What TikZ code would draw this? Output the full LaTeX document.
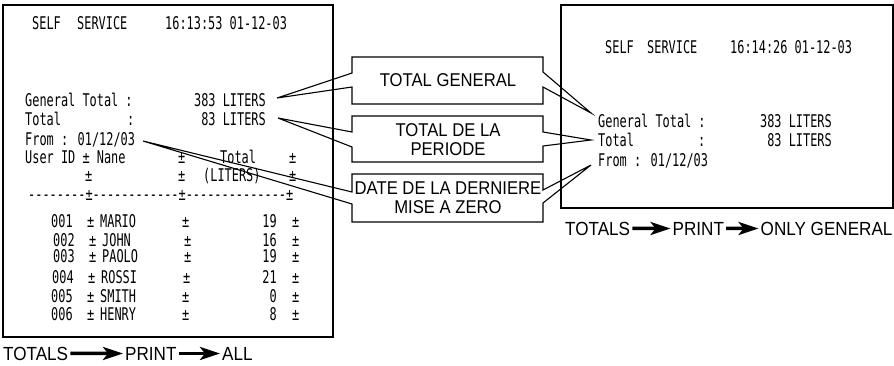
\documentclass[tikz,border=0pt]{standalone}
\usepackage{fontspec}
\usetikzlibrary{arrows.meta}
\newfontfamily\rcptfont[FakeStretch=0.68,Ligatures=TeXOff]{DejaVu Sans Mono}
\newfontfamily\helvfont[FakeStretch=0.9]{Liberation Sans}
\tikzset{
  rc/.style={font=\rcptfont\fontsize{17.5}{19}\selectfont,inner sep=0pt,anchor=base west},
  rcr/.style={rc,anchor=base east},
  frame/.style={draw,line width=1.2pt},
  callout/.style={draw,line width=1.1pt,line join=miter},
  ctxt/.style={font=\helvfont\fontsize{18.5}{19}\selectfont,align=center,inner sep=0pt},
  btxt/.style={font=\helvfont\fontsize{19}{19}\selectfont,inner sep=2pt,anchor=base west},
  bigarrow/.style={line width=3.5pt,-{Stealth[length=20pt,width=13pt,inset=5pt]}}
}
\begin{document}
\begin{tikzpicture}[x=1pt,y=-1pt]
\useasboundingbox (0,0) rectangle (894,365);
\draw[frame] (3,5) rectangle (333,337);
\draw[frame] (561,5) rectangle (893,208);
\node[rc] (self1) at (32,29) {SELF};
\node[rc] (serv1) at (77,29) {SERVICE};
\node[rc] (time1) at (165,29) {16:13:53 01-12-03};
\node[rc] (gtot1) at (25,106) {General Total :};
\node[rcr] (gval1) at (266,106) {383 LITERS};
\node[rc] (ptot1) at (25,125) {Total};
\node[rc] (pcol1) at (127,125) {:};
\node[rcr] (pval1) at (266,125) {83 LITERS};
\node[rc] (from1) at (25,145) {From : 01/12/03};
\node[rc] (user1) at (25,163) {User ID ± Nane};
\node[rc] (usep1) at (178,163) {±};
\node[rc] (utot1) at (220,163) {Total};
\node[rc] (usep2) at (289,163) {±};
\node[rc] (lsep1) at (85,181) {±};
\node[rc] (lsep2) at (178,181) {±};
\node[rc] (lit1) at (203,181) {(LITERS)};
\node[rc] (lsep3) at (289,181) {±};
\node[rc] (dash1) at (28,200) {--------±------------±--------------±};
\foreach \y/\id/\dx/\nm/\v in {227/001/0/MARIO/19,246/002/2/JOHN/16,262/003/2/PAOLO/19,283/004/1/ROSSI/21,302/005/0/SMITH/0,320/006/0/HENRY/8}{
  \node[rc] (id\id) at (51+\dx,\y) {\id};
  \node[rc] (sa\id) at (87+\dx,\y) {±};
  \node[rc] (nm\id) at (100+\dx,\y) {\nm};
  \node[rc] (sb\id) at (182+\dx,\y) {±};
  \node[rcr] (v\id) at (277,\y) {\v};
  \node[rc] (sc\id) at (292,\y) {±};
}
\node[rc] (self2) at (605,53) {SELF};
\node[rc] (serv2) at (647,53) {SERVICE};
\node[rc] (time2) at (730,53) {16:14:26 01-12-03};
\node[rc] (gtot2) at (598,127) {General Total :};
\node[rcr] (gval2) at (832,127) {383 LITERS};
\node[rc] (ptot2) at (598,146) {Total};
\node[rc] (pcol2) at (698,146) {:};
\node[rcr] (pval2) at (832,146) {83 LITERS};
\node[rc] (from2) at (598,166) {From : 01/12/03};
\coordinate (ltipa) at (277,98);
\coordinate (ltipb) at (278,118);
\coordinate (ltipc) at (143,141);
\coordinate (rtipa) at (591,113);
\coordinate (rtipb) at (591,140);
\coordinate (rtipc) at (591,165);
\draw[callout] (352,57) -- (543,57) -- (543,72) -- (rtipa) -- (543,87) -- (543,104) -- (352,104) -- (352,87) -- (ltipa) -- (352,73) -- cycle;
\draw[callout] (352,116) -- (543,116) -- (543,132) -- (rtipb) -- (543,146) -- (543,162) -- (352,162) -- (352,147) -- (ltipb) -- (352,132) -- cycle;
\draw[callout] (352,174) -- (543,174) -- (543,190) -- (rtipc) -- (543,203) -- (543,222) -- (352,222) -- (352,204) -- (ltipc) -- (352,192) -- cycle;
\node[ctxt] (cgen) at (448,80) {TOTAL GENERAL};
\node[ctxt] (cper) at (448,139.5) {TOTAL DE LA\\PERIODE};
\node[ctxt] (cdat) at (448,197.5) {DATE DE LA DERNIERE\\MISE A ZERO};
\node[btxt] (tot1) at (1,360) {TOTALS};
\node[btxt] (prn1) at (123,360) {PRINT};
\node[btxt] (all1) at (220,360) {ALL};
\draw[bigarrow] (tot1) -- (prn1);
\draw[bigarrow] (prn1) -- (all1);
\node[btxt] (tot2) at (563,235) {TOTALS};
\node[btxt] (prn2) at (670.5,235) {PRINT};
\node[btxt] (onl2) at (758.5,235) {ONLY GENERAL};
\draw[bigarrow] (tot2) -- (prn2);
\draw[bigarrow] (prn2) -- (onl2);
\end{tikzpicture}
\end{document}
